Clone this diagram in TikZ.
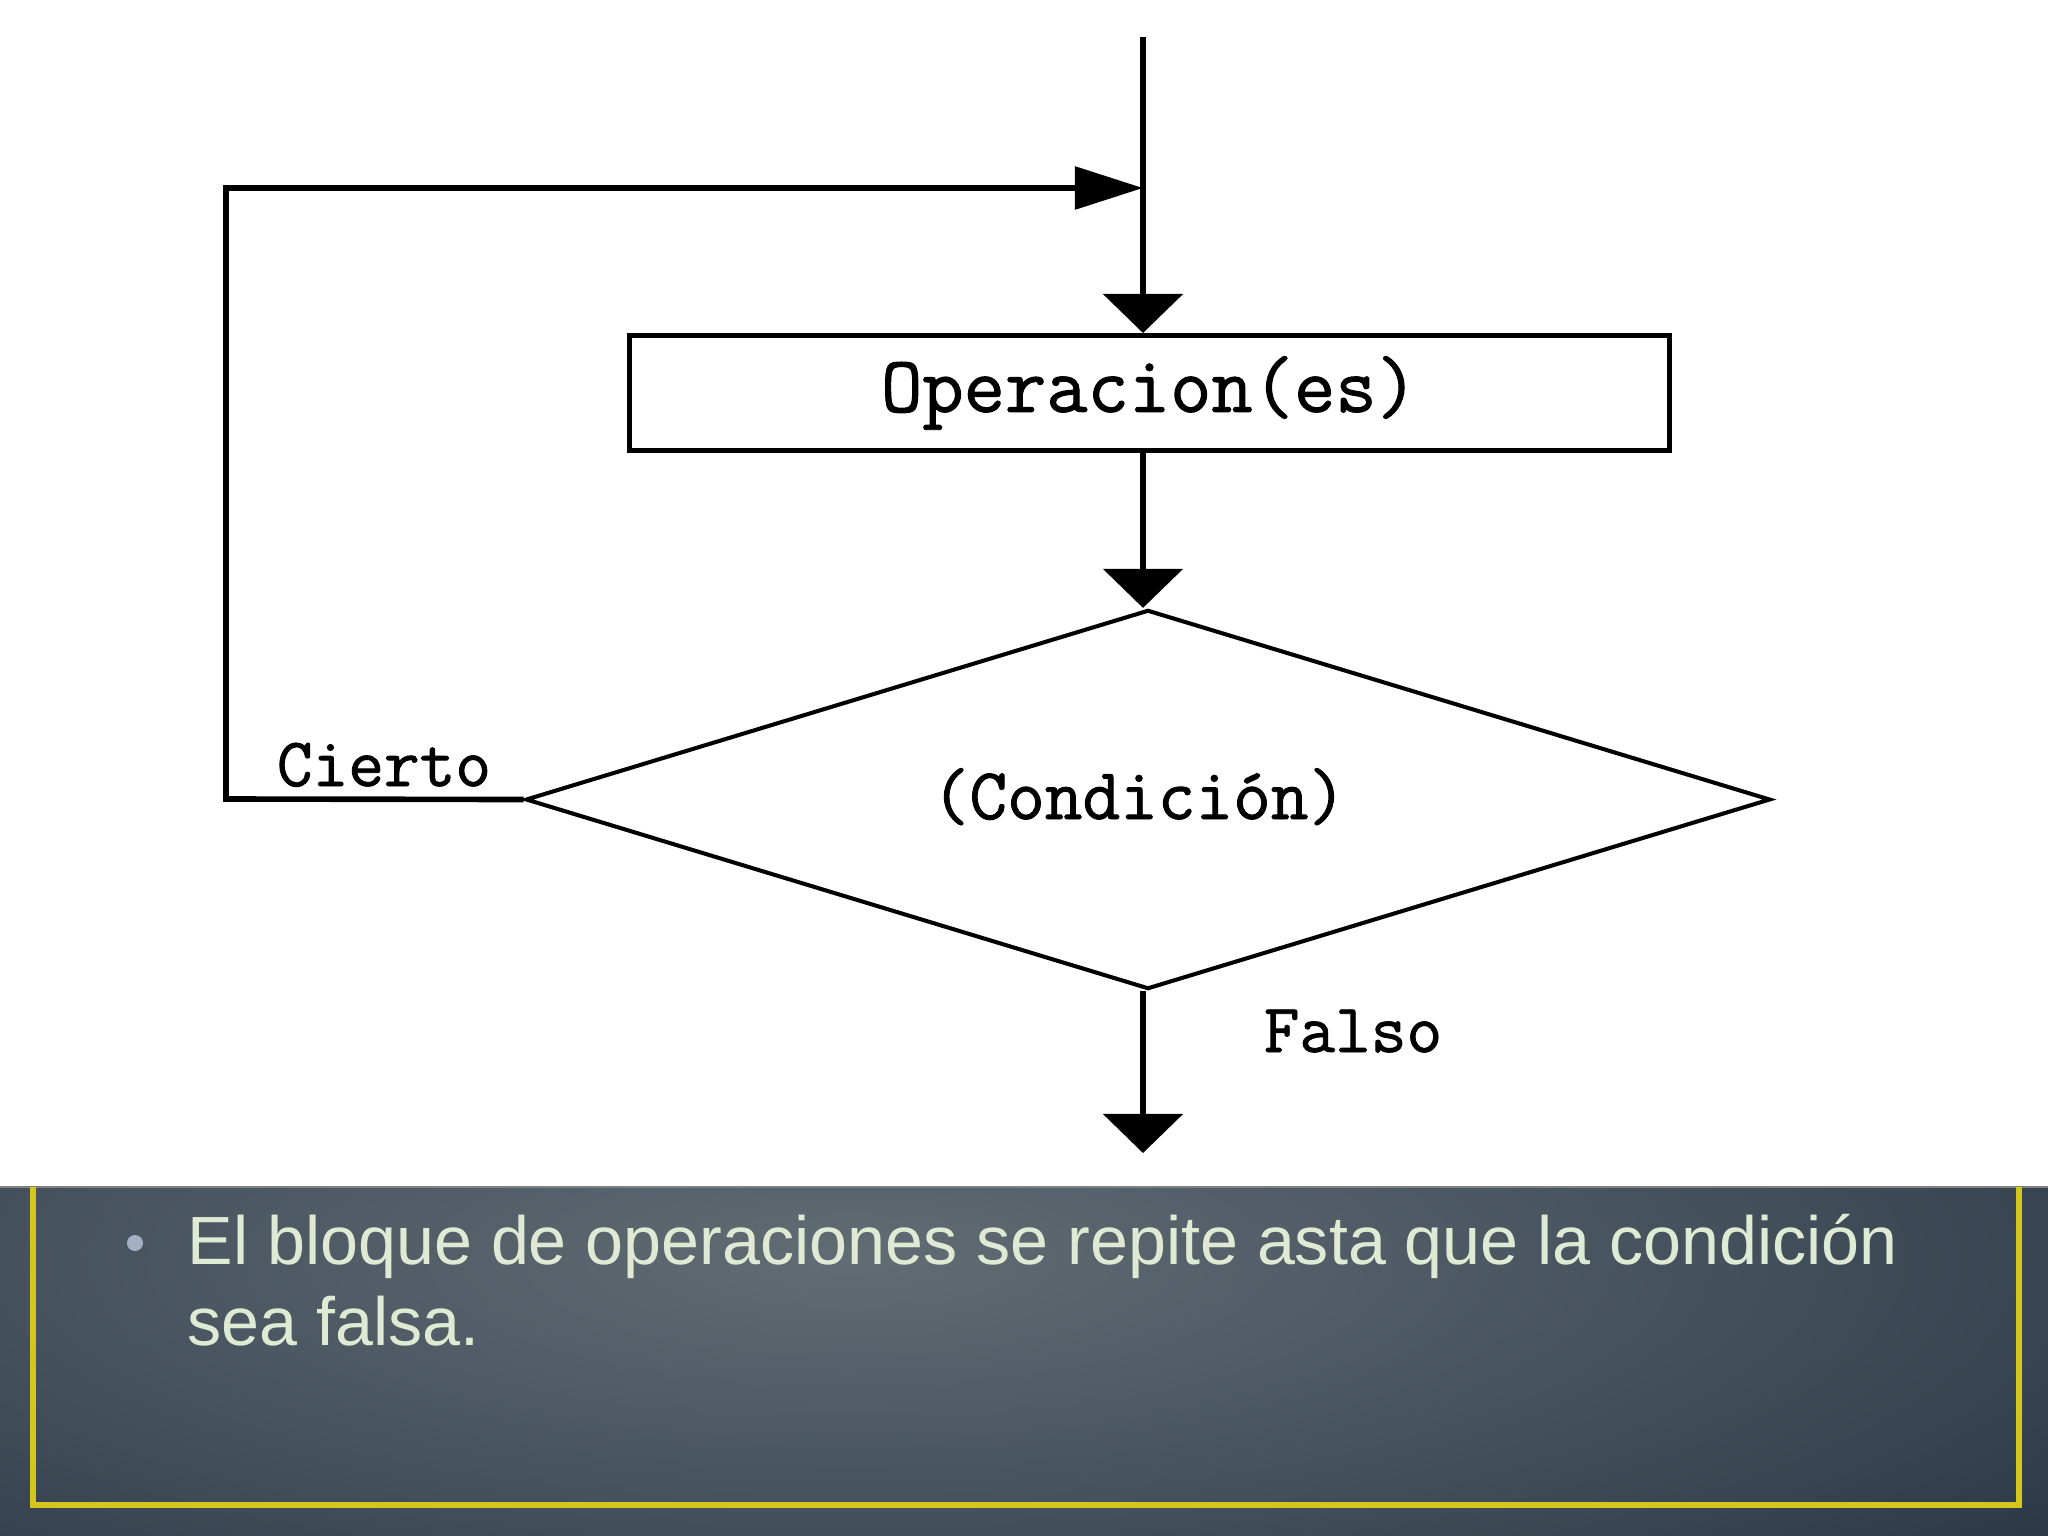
\documentclass[tikz,border=0pt]{standalone}
\usepackage{fontspec}
\setmainfont{Liberation Sans}
\newfontfamily\diagfont[FakeBold=1.2]{Latin Modern Mono}
\usetikzlibrary{shapes.geometric,arrows.meta}
\definecolor{txtc}{RGB}{222,234,212}
\definecolor{bulc}{RGB}{165,175,195}
\definecolor{framey}{RGB}{212,198,28}
\definecolor{pin}{RGB}{98,108,116}
\definecolor{pmid}{RGB}{66,78,90}
\definecolor{pdark}{RGB}{30,45,60}
\definecolor{pout}{RGB}{20,36,50}
\pgfdeclareradialshading{panelshade}{\pgfpoint{0bp}{0bp}}{color(0bp)=(pin); color(18bp)=(pmid); color(36bp)=(pdark); color(50bp)=(pout)}
\begin{document}
\begin{tikzpicture}[x=0.01cm,y=-0.01cm,
  conn/.style={line width=1.6pt},
  arrdown/.style={conn,-{Triangle[length=0.39cm,width=0.79cm]}},
  arrloop/.style={conn,-{Triangle[length=0.68cm,width=0.42cm]}},
  opbox/.style={draw,line width=1.4pt,minimum width=10.39cm,minimum height=1.15cm,inner sep=0pt,
    font=\diagfont\fontsize{22.8}{25}\selectfont},
  cond/.style={diamond,draw,line width=1.15pt,aspect=3.282,minimum width=12.44cm,minimum height=3.79cm,inner sep=0pt},
  lbl/.style={font=\diagfont\fontsize{19.7}{22}\selectfont,inner sep=0pt},
  bullettext/.style={anchor=base west,inner sep=0pt,text=txtc,font=\fontsize{19.4}{23}\selectfont}]
\useasboundingbox (0,0) rectangle (2048,1536);
\fill[white] (0,0) rectangle (2048,1187);
% bottom panel
\begin{scope}
\clip (0,1187) rectangle (2048,1536);
\shade[shading=panelshade] (-450,880) rectangle (2150,1640);
\end{scope}
\draw[gray,line width=0.6pt] (0,1187) -- (2048,1187);
\draw[framey,line width=1.5pt] (33,1187) -- (33,1505) -- (2019,1505) -- (2019,1187);
% flowchart
\coordinate (start) at (1143,37);
\coordinate (join) at (1143,188);
\coordinate (lc) at (226,799);
\coordinate (lt) at (226,188);
\coordinate (fin) at (1143,1153);
\node[opbox] (op) at (1149.5,393) {Operacion(es)};
\node[cond] (cd) at (1148,799.5) {};
\node[lbl,anchor=base,font=\diagfont\fontsize{20.8}{23}\selectfont] (condtxt) at (1139,819) {(Condición)};
\draw[arrdown] (start) -- (start |- op.north);
\draw[arrdown] (start |- op.south) -- (start |- cd.north);
\draw[arrdown] (cd.south -| start) -- (fin);
\draw[arrloop] (cd.west) -- (lc) -- (lt) -- (join);
\node[lbl,anchor=base] (cierto) at (384,786) {Cierto};
\node[lbl,anchor=base] (falso) at (1353,1052) {Falso};
% bullet text
\node[circle,fill=bulc,inner sep=0pt,minimum size=0.16cm] (bul) at (135,1243) {};
\node[bullettext] (l1) at (187,1264) {El bloque de operaciones se repite asta que la condición};
\node[bullettext] (l2) at (187,1345) {sea falsa.};
\end{tikzpicture}
\end{document}
